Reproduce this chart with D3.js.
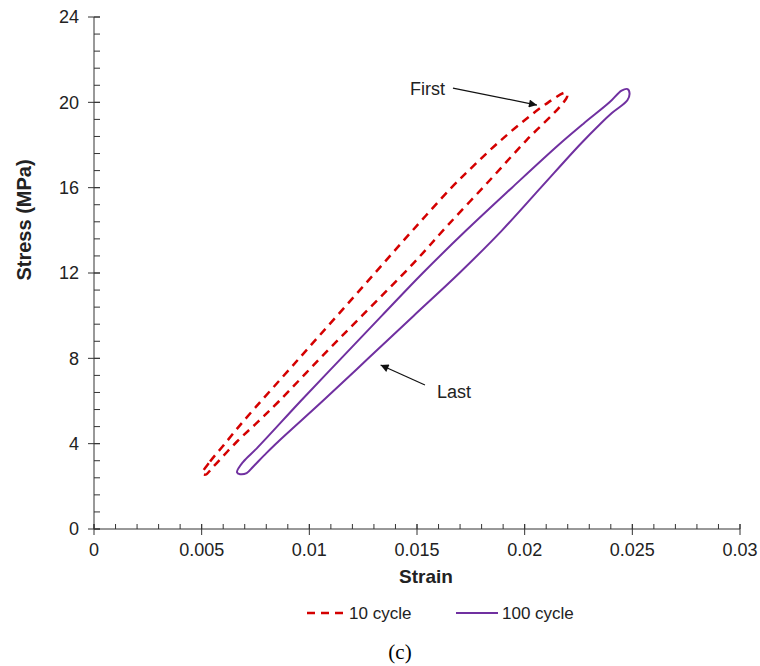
<!DOCTYPE html>
<html>
<head>
<meta charset="utf-8">
<script src="https://cdn.jsdelivr.net/npm/d3@7"></script>
<style>
  body { margin: 0; background: #fff; }
  text { font-family: "Liberation Sans", Arial, sans-serif; fill: #222; }
</style>
</head>
<body>
<svg id="chart"></svg>
<script>
// tick labels
let strainTicks = [0, 0.005, 0.01, 0.015, 0.02, 0.025, 0.03];
let stressTicks = [0, 4, 8, 12, 16, 20, 24];

// hysteresis loops, [strain, stress (MPa)]
let cycle10 = [
    [0.00503, 2.60], [0.00539, 3.16], [0.00599, 3.89], [0.00692, 5.03],
    [0.00953, 8.0], [0.01129, 10.0], [0.01305, 12.0], [0.01480, 14.0],
    [0.01660, 16.0], [0.01760, 17.0], [0.01865, 18.0], [0.01980, 19.0],
    [0.02110, 20.0], [0.02190, 20.45], [0.02198, 20.3], [0.02164, 19.8],
    [0.02009, 18.23], [0.01839, 16.36], [0.01637, 14.17], [0.01483, 12.45],
    [0.01245, 10.0], [0.01050, 8.0], [0.00860, 6.0], [0.00762, 5.03],
    [0.00663, 4.09], [0.00554, 2.92], [0.00518, 2.55]
];
let cycle100 = [
    [0.00664, 2.66], [0.00693, 3.15], [0.00756, 3.78], [0.00960, 6.0],
    [0.01148, 8.0], [0.01337, 10.0], [0.01527, 12.0], [0.01729, 14.0],
    [0.01941, 16.0], [0.02157, 18.0], [0.02273, 19.0], [0.02394, 20.0],
    [0.02450, 20.55], [0.02478, 20.62], [0.02487, 20.42], [0.02477, 20.1],
    [0.02405, 19.5], [0.02352, 19.0], [0.02255, 18.0], [0.02075, 16.0],
    [0.01895, 14.0], [0.01697, 12.0], [0.01485, 10.0], [0.01274, 8.0],
    [0.01062, 6.0], [0.00845, 4.0], [0.00790, 3.45], [0.00739, 2.92],
    [0.00709, 2.62], [0.00678, 2.57]
];

let width = 760, height = 666;
let svg = d3.select("#chart").attr("width", width).attr("height", height);

let x = d3.scaleLinear().domain([0, 0.03]).range([94, 740]);
let y = d3.scaleLinear().domain([0, 24]).range([529, 17]);

let axisColor = "#333";

// x axis
let xAxis = svg.append("g").attr("transform", `translate(0,${y(0)})`);
xAxis.append("line").attr("x1", x(0)).attr("x2", x(0.03))
    .attr("stroke", axisColor);
xAxis.selectAll(".minor").data(d3.range(0, 0.0305, 0.001))
    .enter().append("line")
    .attr("x1", d => x(d)).attr("x2", d => x(d))
    .attr("y1", 0).attr("y2", -5).attr("stroke", axisColor);
xAxis.selectAll(".major").data(strainTicks)
    .enter().append("line")
    .attr("x1", d => x(d)).attr("x2", d => x(d))
    .attr("y1", -5).attr("y2", 6).attr("stroke", axisColor);
xAxis.selectAll(".lab").data(strainTicks)
    .enter().append("text")
    .attr("x", d => x(d)).attr("y", 27)
    .attr("text-anchor", "middle").attr("font-size", 18)
    .text(d => d);

// y axis
let yAxis = svg.append("g").attr("transform", `translate(${x(0)},0)`);
yAxis.append("line").attr("y1", y(0)).attr("y2", y(24))
    .attr("stroke", axisColor);
yAxis.selectAll(".minor").data(d3.range(0, 24.1, 0.8))
    .enter().append("line")
    .attr("y1", d => y(d)).attr("y2", d => y(d))
    .attr("x1", 0).attr("x2", 6).attr("stroke", axisColor);
yAxis.selectAll(".major").data(stressTicks)
    .enter().append("line")
    .attr("y1", d => y(d)).attr("y2", d => y(d))
    .attr("x1", -6).attr("x2", 6).attr("stroke", axisColor);
yAxis.selectAll(".lab").data(stressTicks)
    .enter().append("text")
    .attr("x", -15).attr("y", d => y(d))
    .attr("dy", "0.35em")
    .attr("text-anchor", "end").attr("font-size", 18)
    .text(d => d);

// axis titles
svg.append("text").attr("x", 426).attr("y", 583)
    .attr("text-anchor", "middle").attr("font-size", 19)
    .attr("font-weight", "bold").text("Strain");
svg.append("text").attr("transform", "translate(31,220) rotate(-90)")
    .attr("text-anchor", "middle").attr("font-size", 20)
    .attr("font-weight", "bold").text("Stress (MPa)");

// loops
let line = d3.line()
    .x(d => x(d[0])).y(d => y(d[1]))
    .curve(d3.curveCatmullRomClosed.alpha(0.5));

svg.append("path").datum(cycle100)
    .attr("d", line)
    .attr("fill", "none").attr("stroke", "#7030a0").attr("stroke-width", 2);

svg.append("path").datum(cycle10)
    .attr("d", line)
    .attr("fill", "none").attr("stroke", "#d40000").attr("stroke-width", 2.5)
    .attr("stroke-dasharray", "8,6");

// annotations
svg.append("defs").append("marker")
    .attr("id", "head").attr("viewBox", "0 0 10 10")
    .attr("refX", 10).attr("refY", 5)
    .attr("markerWidth", 10).attr("markerHeight", 8)
    .attr("markerUnits", "userSpaceOnUse")
    .attr("orient", "auto")
    .append("path").attr("d", "M0,0 L10,5 L0,10 Z").attr("fill", "#111");

svg.append("line")
    .attr("x1", x(0.01667)).attr("y1", y(20.67))
    .attr("x2", x(0.02057)).attr("y2", y(19.87))
    .attr("stroke", "#111").attr("stroke-width", 1.2)
    .attr("marker-end", "url(#head)");
svg.append("text").attr("x", x(0.0163)).attr("y", y(20.34))
    .attr("text-anchor", "end").attr("font-size", 18).text("First");

svg.append("line")
    .attr("x1", x(0.01537)).attr("y1", y(6.75))
    .attr("x2", x(0.01331)).attr("y2", y(7.69))
    .attr("stroke", "#111").attr("stroke-width", 1.2)
    .attr("marker-end", "url(#head)");
svg.append("text").attr("x", x(0.01593)).attr("y", y(6.14))
    .attr("font-size", 18).text("Last");

// legend
let legend = svg.append("g").attr("transform", "translate(0,613)");
legend.append("line").attr("x1", 307).attr("x2", 347)
    .attr("stroke", "#d40000").attr("stroke-width", 2.5)
    .attr("stroke-dasharray", "8,6");
legend.append("text").attr("x", 349).attr("y", 0).attr("dy", "0.35em")
    .attr("font-size", 17).text("10 cycle");
legend.append("line").attr("x1", 456).attr("x2", 498)
    .attr("stroke", "#7030a0").attr("stroke-width", 2);
legend.append("text").attr("x", 502).attr("y", 0).attr("dy", "0.35em")
    .attr("font-size", 17).text("100 cycle");

// caption
svg.append("text").attr("x", 400).attr("y", 659)
    .attr("text-anchor", "middle").attr("font-size", 21)
    .style("font-family", "'Liberation Serif', 'Times New Roman', serif")
    .style("fill", "#000")
    .text("(c)");
</script>
</body>
</html>
